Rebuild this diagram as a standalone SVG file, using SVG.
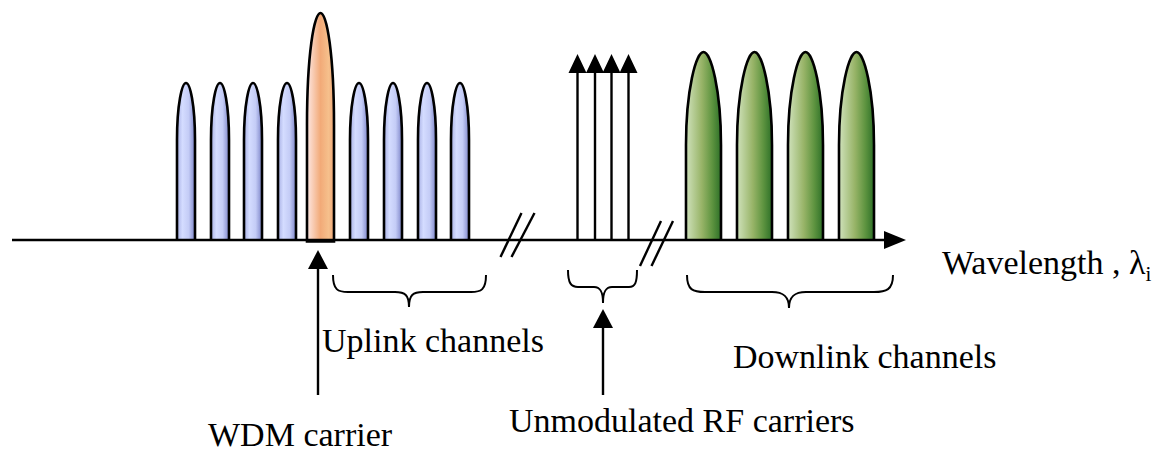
<svg xmlns="http://www.w3.org/2000/svg" width="1156" height="452" viewBox="0 0 1156 452">
<defs>
<linearGradient id="gBlue" x1="0" y1="0" x2="1" y2="0">
<stop offset="0" stop-color="#a8b0e4"/><stop offset="0.3" stop-color="#d4dcff"/><stop offset="0.65" stop-color="#c4ccf6"/><stop offset="1" stop-color="#7c84c8"/>
</linearGradient>
<linearGradient id="gOrange" x1="0" y1="0" x2="1" y2="0">
<stop offset="0" stop-color="#fde8e4"/><stop offset="0.5" stop-color="#f2aa78"/><stop offset="0.8" stop-color="#f6c08c"/><stop offset="1" stop-color="#f0a878"/>
</linearGradient>
<linearGradient id="gGreen" x1="0" y1="0" x2="1" y2="0">
<stop offset="0" stop-color="#d0e2bc"/><stop offset="0.45" stop-color="#98b468"/><stop offset="0.75" stop-color="#5e9440"/><stop offset="1" stop-color="#2e7028"/>
</linearGradient>
</defs>
<style>
.pulse{stroke:#000;stroke-width:2.6;}
.blue{fill:url(#gBlue);}
.green{fill:url(#gGreen);}
.orange{fill:url(#gOrange);}
.ln{stroke:#000;stroke-width:2.4;fill:none;}
.br{stroke:#000;stroke-width:2;fill:none;}
.t{font-family:"Liberation Serif","Times New Roman",serif;font-size:34px;fill:#000;}
</style>
<rect width="1156" height="452" fill="#fff"/>

<g id="uplink-pulses">
<path class="pulse blue" d="M177,240 V140 C177,104 182,83 186,83 C190,83 195,104 195,140 V240"/>
<path class="pulse blue" d="M211,240 V140 C211,104 216,83 220,83 C224,83 229,104 229,140 V240"/>
<path class="pulse blue" d="M244,240 V140 C244,104 249,83 253,83 C257,83 262,104 262,140 V240"/>
<path class="pulse blue" d="M278,240 V140 C278,104 283,83 287,83 C291,83 296,104 296,140 V240"/>
<path class="pulse blue" d="M350,240 V140 C350,104 355,83 359,83 C363,83 368,104 368,140 V240"/>
<path class="pulse blue" d="M384,240 V140 C384,104 389,83 393,83 C397,83 402,104 402,140 V240"/>
<path class="pulse blue" d="M418,240 V140 C418,104 423,83 427,83 C431,83 436,104 436,140 V240"/>
<path class="pulse blue" d="M451,240 V140 C451,104 456,83 460,83 C464,83 469,104 469,140 V240"/>
</g>

<g id="wdm-pulse">
<path class="pulse orange" d="M307,241.5 V125 C307,55 314,13 320.5,13 C327,13 334,55 334,125 V241.5 Z"/>
</g>

<g id="downlink-pulses">
<path class="pulse green" d="M686,240 V145 C686,90 696,52 703.5,52 C711,52 721,90 721,145 V240"/>
<path class="pulse green" d="M737,240 V145 C737,90 747,52 754.5,52 C762,52 772,90 772,145 V240"/>
<path class="pulse green" d="M788,240 V145 C788,90 798,52 805.5,52 C813,52 823,90 823,145 V240"/>
<path class="pulse green" d="M839,240 V145 C839,90 849,52 856.5,52 C864,52 874,90 874,145 V240"/>
</g>

<g id="rf-carriers">
<line class="ln" x1="577.5" y1="240" x2="577.5" y2="70"/>
<line class="ln" x1="595" y1="240" x2="595" y2="70"/>
<line class="ln" x1="611.5" y1="240" x2="611.5" y2="70"/>
<line class="ln" x1="628.5" y1="240" x2="628.5" y2="70"/>
<path d="M568.5,73 L577.5,54 L586.5,73 Z M586,73 L595,54 L604,73 Z M602.5,73 L611.5,54 L620.5,73 Z M619.5,73 L628.5,54 L637.5,73 Z" fill="#000"/>
</g>

<g id="axis">
<line class="ln" x1="12" y1="240" x2="886" y2="240"/>
<path d="M884,231 L906,240 L884,249 Z" fill="#000"/>
<line class="ln" x1="500.5" y1="257" x2="521.5" y2="213"/>
<line class="ln" x1="511.5" y1="257" x2="534.5" y2="213"/>
<line class="ln" x1="640" y1="266" x2="661" y2="221"/>
<line class="ln" x1="651.5" y1="266" x2="673" y2="221"/>
</g>

<g id="connectors">
<path class="br" d="M333,275 C333,290 338,292 348,292 L395,292 C405,292 409,295 409,307 C409,295 413,292 423,292 L471,292 C481,292 486,290 486,275"/>
<path class="br" d="M568,270 C568,283 571,287 578,287 L594,287 C600,287 603,291 603,303 C603,291 606,287 612,287 L629,287 C635,287 637,283 637,270"/>
<path class="br" d="M687,275 C687,290 693,292 705,292 L772,292 C783,292 789,296 789,308 C789,296 795,292 806,292 L874,292 C886,292 893,290 893,275"/>
<line class="ln" x1="318" y1="395" x2="318" y2="266"/>
<path d="M308,269 L318,250 L328,269 Z" fill="#000"/>
<line class="ln" x1="603" y1="395" x2="603" y2="326"/>
<path d="M593,328 L603,309 L613,328 Z" fill="#000"/>
</g>

<g id="labels">
<text class="t" x="942" y="274">Wavelength , λ<tspan font-size="21" dy="7">i</tspan></text>
<text class="t" x="322" y="352">Uplink channels</text>
<text class="t" x="733" y="368">Downlink channels</text>
<text class="t" x="509" y="432">Unmodulated RF carriers</text>
<text class="t" x="208" y="446">WDM carrier</text>
</g>
</svg>
